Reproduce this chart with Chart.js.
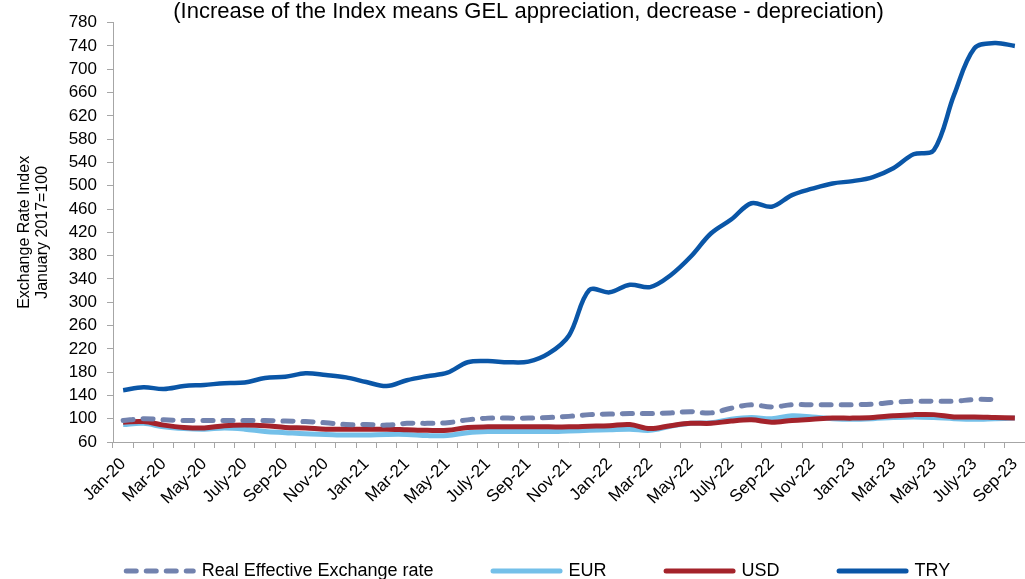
<!DOCTYPE html>
<html>
<head>
<meta charset="utf-8">
<script src="https://cdn.jsdelivr.net/npm/chart.js@4.4.0/dist/chart.umd.min.js"></script>
<style>
  html, body { margin: 0; padding: 0; background: #fff; }
  #chart { display: block; }
</style>
</head>
<body>
<canvas id="chart" width="1025" height="579"></canvas>
<script>
// monthly, Jan-20 .. Sep-23
const months = [
  'Jan-20', 'Feb-20', 'Mar-20', 'Apr-20', 'May-20', 'Jun-20', 'July-20', 'Aug-20', 'Sep-20', 'Oct-20', 'Nov-20', 'Dec-20',
  'Jan-21', 'Feb-21', 'Mar-21', 'Apr-21', 'May-21', 'Jun-21', 'July-21', 'Aug-21', 'Sep-21', 'Oct-21', 'Nov-21', 'Dec-21',
  'Jan-22', 'Feb-22', 'Mar-22', 'Apr-22', 'May-22', 'Jun-22', 'July-22', 'Aug-22', 'Sep-22', 'Oct-22', 'Nov-22', 'Dec-22',
  'Jan-23', 'Feb-23', 'Mar-23', 'Apr-23', 'May-23', 'Jun-23', 'July-23', 'Aug-23', 'Sep-23'
];

const reer = [
  97, 100, 98, 97, 97, 97, 97, 97, 96, 95, 93, 90,
  90, 89, 92, 92, 93, 98, 101, 101, 101, 102, 104, 107,
  108, 109, 109, 110, 112, 110, 118, 124, 120, 124, 124, 124,
  124, 125, 128, 130, 130, 130, 133, 133, null
];
const eur = [
  90, 92, 86, 83, 82, 84, 82, 78, 76, 74, 73, 72,
  72, 73, 73, 71, 71, 76, 78, 78, 78, 78, 79, 80,
  81, 82, 80, 87, 92, 93, 99, 102, 100, 105, 103, 100,
  99, 100, 102, 103, 102, 100, 99, 100, 101
];
const usd = [
  94, 95, 89, 85, 84, 88, 89, 88, 85, 84, 82, 82,
  82, 82, 81, 80, 80, 85, 86, 86, 86, 86, 86, 87,
  88, 90, 83, 88, 92, 92, 96, 98, 94, 97, 99, 101,
  101, 102, 105, 107, 107, 103, 103, 102, 101
];
const try_rate = [
  149, 154, 151, 156, 158, 161, 162, 170, 172, 178, 175, 171,
  163, 156, 166, 173, 179, 197, 199, 197, 198, 212, 243, 321,
  317, 330, 326, 346, 378, 418, 442, 470, 464, 484, 495, 504,
  508, 515, 530, 554, 561, 656, 736, 745, 740
];

const y_min = 60;
const y_max = 780;
const y_step = 40;

const chart_title = '(Increase of the Index means GEL appreciation, decrease - depreciation)';
const y_title = ['Exchange Rate Index', 'January 2017=100'];

const font_family = '"Liberation Sans", Arial, sans-serif';
const axis_grey = '#A6A6A6';

// legend is drawn by hand so the spacing can match the original
const bottomLegend = {
  id: 'bottomLegend',
  afterDraw(chart) {
    const ctx = chart.ctx;
    const sample_len = 72, sample_gap = 6, item_gap = 57;
    const cy = 571, center_x = 537;
    ctx.save();
    ctx.font = '18px ' + font_family;
    var items = chart.data.datasets.map(function(ds) {
      return { ds: ds, w: ctx.measureText(ds.label).width };
    });
    var total = 0;
    items.forEach(function(it, i) { total += sample_len + sample_gap + it.w + (i ? item_gap : 0); });
    var x = center_x - total / 2;
    items.forEach(function(it) {
      ctx.beginPath();
      ctx.strokeStyle = it.ds.borderColor;
      ctx.lineWidth = 5;
      ctx.lineCap = 'round';
      ctx.setLineDash(it.ds.borderDash || []);
      ctx.moveTo(x + 2.5, cy);
      ctx.lineTo(x + sample_len - 2.5, cy);
      ctx.stroke();
      ctx.setLineDash([]);
      ctx.fillStyle = '#000';
      ctx.textAlign = 'left';
      ctx.textBaseline = 'middle';
      ctx.fillText(it.ds.label, x + sample_len + sample_gap, cy);
      x += sample_len + sample_gap + it.w + item_gap;
    });
    ctx.restore();
  }
};

// the title in the original sits a bit right of the page centre
const shiftTitle = {
  id: 'shiftTitle',
  afterLayout(chart) {
    if (chart.titleBlock) {
      chart.titleBlock.left += 16;
      chart.titleBlock.right += 16;
    }
  }
};

var ctx = document.getElementById('chart').getContext('2d');
var chart = new Chart(ctx, {
  type: 'line',
  data: {
    labels: months,
    datasets: [
      { label: 'Real Effective Exchange rate', data: reer, borderColor: '#7282AE', borderWidth: 5,
        borderDash: [10, 10], borderCapStyle: 'round', order: 2 },
      { label: 'EUR', data: eur, borderColor: '#74C0E9', borderWidth: 5, order: 4 },
      { label: 'USD', data: usd, borderColor: '#A4232B', borderWidth: 5, order: 3 },
      { label: 'TRY', data: try_rate, borderColor: '#0A56A7', borderWidth: 4.5, order: 1 }
    ]
  },
  options: {
    responsive: false,
    animation: false,
    devicePixelRatio: 1,
    layout: { padding: { left: 0, right: 0, top: 0, bottom: 40 } },
    elements: {
      point: { radius: 0 },
      line: { tension: 0.35, fill: false, borderJoinStyle: 'round' }
    },
    plugins: {
      legend: { display: false },
      tooltip: { enabled: false },
      title: {
        display: true,
        text: chart_title,
        color: '#000',
        font: { family: font_family, size: 22, weight: 'normal', lineHeight: 1.2 },
        padding: { top: -1, bottom: -2.7 }
      }
    },
    scales: {
      x: {
        type: 'category',
        offset: true,
        grid: { offset: true, drawOnChartArea: false, tickLength: 6, color: axis_grey },
        border: { color: axis_grey, width: 1 },
        ticks: {
          autoSkip: false,
          maxRotation: 45,
          minRotation: 45,
          padding: 6,
          color: '#000',
          font: { family: font_family, size: 17 },
          callback: function(value, index) {
            return index % 2 === 0 ? this.getLabelForValue(value) : '';
          }
        },
        afterFit: function(scale) {
          scale.height = 97;
          scale.paddingLeft = 0;
          scale.paddingRight = 0;
        }
      },
      y: {
        min: y_min,
        max: y_max,
        grid: { drawOnChartArea: false, tickLength: 6, color: axis_grey },
        border: { color: axis_grey, width: 1 },
        ticks: {
          stepSize: y_step,
          autoSkip: false,
          padding: 10,
          color: '#000',
          font: { family: font_family, size: 17 }
        },
        title: {
          display: true,
          text: y_title,
          color: '#000',
          font: { family: font_family, size: 16, lineHeight: 1.125 },
          padding: { top: 16, bottom: 0 }
        },
        afterFit: function(scale) { scale.width = 113; }
      }
    }
  },
  plugins: [bottomLegend, shiftTitle]
});
</script>
</body>
</html>
